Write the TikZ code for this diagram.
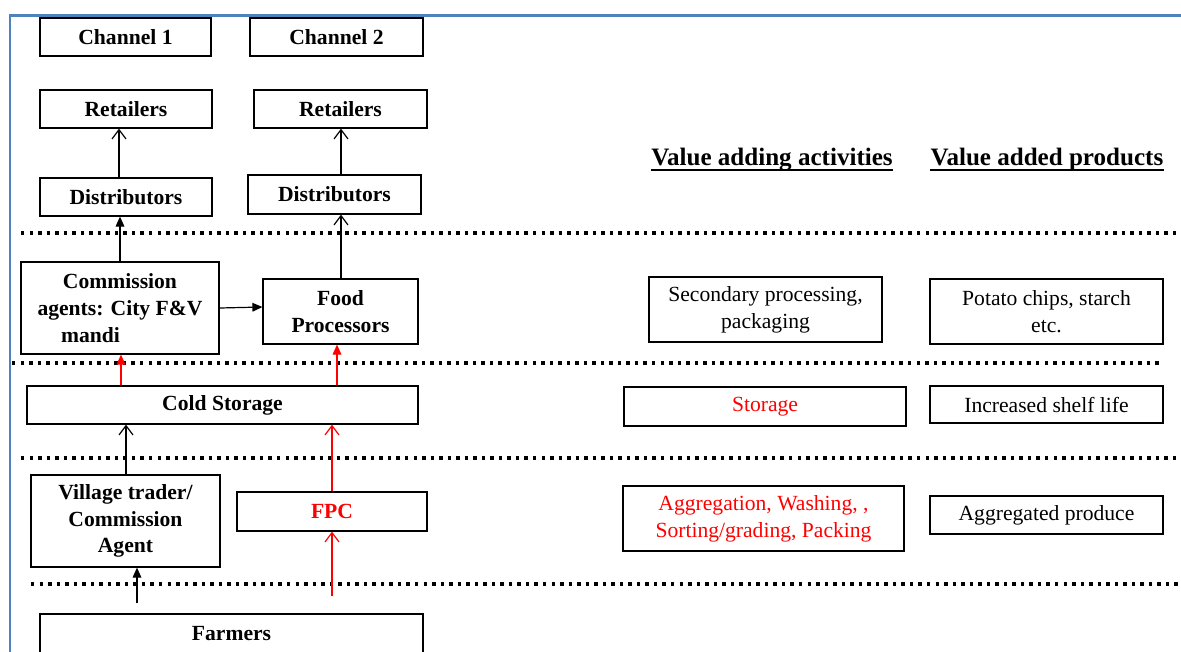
\documentclass[tikz,border=0pt]{standalone}
\usepackage{fontspec}
\setmainfont{Liberation Serif}
\usetikzlibrary{arrows.meta}
\definecolor{framebl}{RGB}{79,129,189}
\definecolor{hot}{RGB}{255,0,0}
\begin{document}
\begin{tikzpicture}[x=0.75pt,y=-0.75pt,
  sz/.style 2 args={minimum width=#1*0.75pt,minimum height=#2*0.75pt},
  box/.style={draw,line width=0.9pt,inner sep=0pt,align=center,
    font=\fontsize{16.2}{20}\selectfont},
  bbox/.style={box,font=\fontsize{16.2}{20}\selectfont\bfseries},
  head/.style={inner sep=0pt,font=\fontsize{18.8}{22}\selectfont\bfseries},
  dotline/.style={line width=2.8pt,dash pattern=on 2.6pt off 3.8pt},
  openarr/.style={line width=0.9pt,-{Straight Barb[length=7pt,width=10.5pt,line width=0.9pt]}},
  fillarr/.style={line width=0.9pt,-{Triangle[length=7.5pt,width=6.5pt]}},
]
\useasboundingbox (0,0) rectangle (1181,651);
\clip (0,0) rectangle (1181,651);

% frame
\draw[framebl,line width=1.6pt] (10,660) -- (10,15.5) -- (1190,15.5);

% level separators
\draw[dotline] (21,233) -- (1181,233);
\draw[dotline] (12,363) -- (1163,363);
\draw[dotline] (21,458) -- (1181,458);
\draw[dotline] (31,584) -- (1181,584);

% channel headers
\node[bbox,sz={171}{38}] (ch1) at (125.5,37) {Channel 1};
\node[bbox,sz={173}{38}] (ch2) at (336.5,37) {Channel 2};

% channel 1 / channel 2 chain
\node[bbox,sz={172}{38}] (ret1) at (126,109) {Retailers};
\node[bbox,sz={173}{38}] (ret2) at (340.5,109) {Retailers};
\node[bbox,sz={172}{38}] (dist1) at (126,197) {Distributors};
\node[bbox,sz={173}{39}] (dist2) at (334.5,194.5) {Distributors};
\node[bbox,sz={198}{92}] (comm) at (120,308) {Commission\\agents: City F\&V\\mandi\hphantom{mandi}};
\node[bbox,sz={155}{65}] (food) at (340.5,311.5) {Food\\Processors};
\node[bbox,sz={391}{38}] (cold) at (222.5,405) {Cold Storage};
\node[bbox,sz={189}{92}] (vill) at (125.5,521) {Village trader/\\Commission\\Agent};
\node[bbox,sz={190}{39},text=hot] (fpc) at (332,511.5) {FPC};
\node[bbox,sz={383}{40}] (farm) at (231.5,634) {Farmers};

% flows
\draw[openarr] (119,0 |- dist1.north) -- (119,0 |- ret1.south);
\draw[openarr] (341,0 |- dist2.north) -- (341,0 |- ret2.south);
\draw[fillarr] (120,0 |- comm.north) -- (120,0 |- dist1.south);
\draw[openarr] (341,0 |- food.north) -- (341,0 |- dist2.south);
\draw[fillarr] (comm.east |- 0,308) -- (food.west |- 0,307);
\draw[fillarr,hot] (121,0 |- cold.north) -- (121,0 |- comm.south);
\draw[fillarr,hot] (337,0 |- cold.north) -- (337,0 |- food.south);
\draw[openarr] (126,0 |- vill.north) -- (126,0 |- cold.south);
\draw[openarr,hot] (332,0 |- fpc.north) -- (332,0 |- cold.south);
\draw[fillarr,shorten <=7.5pt] (137,0 |- farm.north) -- (137,0 |- vill.south);
\draw[openarr,hot,shorten <=12.75pt] (332,0 |- farm.north) -- (332,0 |- fpc.south);

% column headings
\node[head,anchor=base] (h1) at (772,165) {Value adding activities};
\node[head,anchor=base] (h2) at (1047,165) {Value added products};
\draw[line width=1.4pt] ([yshift=-3.9pt]h1.base west) -- ([yshift=-3.9pt]h1.base east);
\draw[line width=1.4pt] ([yshift=-3.9pt]h2.base west) -- ([yshift=-3.9pt]h2.base east);

% activities and products
\node[box,sz={233}{65}] (sec) at (765.5,309.5) {Secondary processing,\\packaging};
\node[box,sz={233}{65}] (pot) at (1046.5,311.5) {Potato chips, starch\\etc.};
\node[box,sz={282}{39},text=hot] (stor) at (765,406.5) {Storage};
\node[box,sz={233}{37}] (inc) at (1046.5,404.5) {Increased shelf life};
\node[box,sz={281}{65},text=hot] (aggr) at (763.5,518.5) {Aggregation, Washing, ,\\Sorting/grading, Packing};
\node[box,sz={233}{38}] (aggp) at (1046.5,515) {Aggregated produce};
\end{tikzpicture}
\end{document}
